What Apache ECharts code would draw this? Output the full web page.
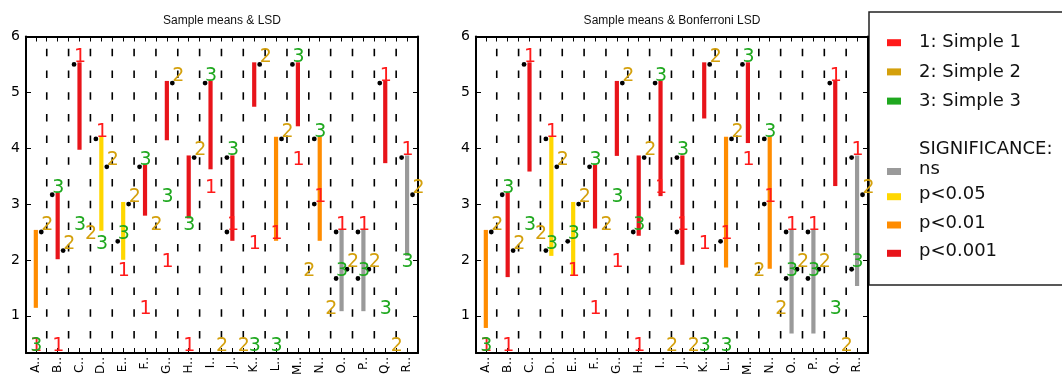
<!DOCTYPE html>
<html>
<head>
<meta charset="utf-8">
<script src="https://cdn.jsdelivr.net/npm/echarts@6/dist/echarts.min.js"></script>
<style>
  html, body { margin: 0; padding: 0; background: #fff; }
  #chart { width: 1062px; height: 378px; }
</style>
</head>
<body>
<div id="chart"></div>
<script>
// categories and the three sample means per category
var categories = ['A','B','C','D','E','F','G','H','I','J','K','L','M','N','O','P','Q','R'];
var mean1 = [0.333, 0.333, 5.5, 4.167, 1.667, 1.0, 1.833, 0.333, 3.167, 2.5, 2.167, 2.333, 3.667, 3.0, 2.5, 2.5, 5.167, 3.833];
var mean2 = [2.5, 2.167, 2.333, 3.667, 3.0, 2.5, 5.167, 3.833, 0.333, 0.333, 5.5, 4.167, 1.667, 1.0, 1.833, 1.833, 0.333, 3.167];
var mean3 = [0.333, 3.167, 2.5, 2.167, 2.333, 3.667, 3.0, 2.5, 5.167, 3.833, 0.333, 0.333, 5.5, 4.167, 1.667, 1.667, 1.0, 1.833];

// significance of each category (same in both panels)
var sigLevel = ['p<0.01','p<0.001','p<0.001','p<0.05','p<0.05','p<0.001','p<0.001','p<0.001','p<0.001','p<0.001','p<0.001','p<0.01','p<0.001','p<0.01','ns','ns','p<0.001','ns'];

// LSD panel: lower end of bar, samples marked with a dot
var lsdLow = [1.18, 2.05, 4.01, 2.56, 2.04, 2.83, 4.18, 2.78, 3.66, 2.38, 4.78, 2.38, 4.43, 2.38, 1.12, 1.12, 3.77, 2.11];
var lsdDots = ['2','32','1','12','23','3','2','2','3','31','2','2','3','31','123','123','1','12'];

// Bonferroni panel
var bonfLow = [0.82, 1.73, 3.62, 2.11, 1.75, 2.6, 3.9, 2.47, 3.18, 1.95, 4.57, 1.9, 4.13, 1.88, 0.72, 0.72, 3.36, 1.57];
var bonfDots = ['2','32','1','123','23','3','2','23','3','31','2','21','3','31','123','123','1','123'];

var yTicks = [1, 2, 3, 4, 5, 6];
var sampleNames = ['1: Simple 1', '2: Simple 2', '3: Simple 3'];
var sigNames = ['ns', 'p<0.05', 'p<0.01', 'p<0.001'];

var sampleColors = ['#ff1a1a', '#d4a00c', '#1fa81f'];
var sigColors = ['#9a9a9a', '#ffd700', '#ff8c00', '#e8141a'];

var X_MIN = -0.45, X_MAX = 17.5, Y_MIN = 1 / 3, Y_MAX = 6;
var FONT = 'DejaVu Sans';

var halfTicks = [], catTicks = [], separators = [];
for (var i = 0; i < categories.length; i++) {
  catTicks.push(i);
  halfTicks.push(i, i + 0.5);
  if (i < categories.length - 1) separators.push([i + 0.5, Y_MAX]);
}

var means = [mean1, mean2, mean3];

function axisLine() {
  return { show: true, onZero: false, lineStyle: { color: '#000', width: 2 } };
}

function makeAxes(g) {
  var xs = [], ys = [];
  ['bottom', 'top'].forEach(function (pos) {
    xs.push({
      gridIndex: g, type: 'value', position: pos, min: X_MIN, max: X_MAX,
      axisLine: axisLine(),
      axisTick: { show: true, inside: true, length: 5, customValues: halfTicks, lineStyle: { color: '#000', width: 1 } },
      axisLabel: pos === 'bottom' ? {
        show: true, customValues: catTicks, rotate: 90, margin: 4,
        fontSize: 12, fontFamily: FONT, color: '#000',
        formatter: function (v) { return categories[Math.round(v)] + '..'; }
      } : { show: false },
      splitLine: { show: false }
    });
  });
  ['left', 'right'].forEach(function (pos) {
    ys.push({
      gridIndex: g, type: 'value', position: pos, min: Y_MIN, max: Y_MAX,
      axisLine: axisLine(),
      axisTick: { show: true, inside: true, length: 5, customValues: yTicks, lineStyle: { color: '#000', width: 1 } },
      axisLabel: pos === 'left' ? {
        show: true, customValues: yTicks, margin: 6, fontSize: 14, fontFamily: FONT, color: '#000'
      } : { show: false },
      splitLine: { show: false }
    });
  });
  return { x: xs, y: ys };
}

function sigColor(i) {
  return sigColors[sigNames.indexOf(sigLevel[i])];
}

function panelSeries(g, low, dots) {
  var axisIdx = g * 2;
  var sepSeries = {
    type: 'custom', xAxisIndex: axisIdx, yAxisIndex: axisIdx, silent: true, z: 1,
    data: separators,
    renderItem: function (params, api) {
      var x = api.value(0);
      var p1 = api.coord([x, Y_MAX]);
      var p2 = api.coord([x, Y_MIN]);
      return {
        type: 'line',
        shape: { x1: p1[0], y1: p1[1], x2: p2[0], y2: p2[1] },
        style: { stroke: '#000', lineWidth: 1.6, lineDash: [7.5, 14.2], lineDashOffset: 9.4 }
      };
    }
  };
  var data = categories.map(function (c, i) {
    return [i, Math.max(mean1[i], mean2[i], mean3[i]), low[i]];
  });
  var markSeries = {
    type: 'custom', xAxisIndex: axisIdx, yAxisIndex: axisIdx, silent: true, z: 3,
    data: data,
    renderItem: function (params, api) {
      var i = params.dataIndex;
      var top = api.coord([i, api.value(1)]);
      var bot = api.coord([i, api.value(2)]);
      var children = [{
        type: 'line',
        shape: { x1: top[0], y1: top[1], x2: bot[0], y2: bot[1] },
        style: { stroke: sigColor(i), lineWidth: 4.2, lineCap: 'square' }
      }];
      var texts = [];
      for (var k = 0; k < 3; k++) {
        var side = (k === 1) ? 0.25 : -0.25;
        var p = api.coord([i + side, means[k][i]]);
        if (dots[i].indexOf(String(k + 1)) >= 0) {
          children.push({
            type: 'circle', shape: { cx: p[0], cy: p[1], r: 2.4 },
            style: { fill: '#000' }
          });
        }
        texts.push({
          type: 'text', x: p[0], y: p[1] - 7,
          style: {
            text: String(k + 1), fill: sampleColors[k],
            fontSize: 19, fontFamily: FONT, align: 'left', verticalAlign: 'middle'
          }
        });
      }
      return { type: 'group', children: children.concat(texts) };
    }
  };
  return [sepSeries, markSeries];
}

var left = makeAxes(0), right = makeAxes(1);

var legendChildren = [{
  type: 'rect', shape: { x: 869, y: 12, width: 220, height: 273 },
  style: { fill: '#fff', stroke: '#222', lineWidth: 1.5 }
}];
sampleNames.forEach(function (name, k) {
  var y = 42.7 + k * 29.2;
  legendChildren.push({ type: 'rect', shape: { x: 887, y: y - 3.5, width: 14, height: 7 }, style: { fill: sampleColors[k] } });
  legendChildren.push({ type: 'text', x: 919, y: y, style: { text: name, fontSize: 18, fontFamily: FONT, fill: '#111', verticalAlign: 'middle' } });
});
legendChildren.push({ type: 'text', x: 919, y: 149, style: { text: 'SIGNIFICANCE:', fontSize: 18, fontFamily: FONT, fill: '#111', verticalAlign: 'middle' } });
sigNames.forEach(function (name, k) {
  var y = [171.5, 196.7, 225, 253.3][k];
  legendChildren.push({ type: 'rect', shape: { x: 887, y: y - 3.5, width: 14, height: 7 }, style: { fill: sigColors[k] } });
  legendChildren.push({ type: 'text', x: 919, y: y - 2, style: { text: name, fontSize: 18, fontFamily: FONT, fill: '#111', verticalAlign: 'middle' } });
});

var chart = echarts.init(document.getElementById('chart'), null, { renderer: 'canvas' });
chart.setOption({
  animation: false,
  backgroundColor: '#fff',
  grid: [
    { left: 26, top: 36.5, width: 392, height: 320 },
    { left: 476, top: 36.5, width: 392, height: 320 }
  ],
  xAxis: left.x.concat(right.x),
  yAxis: left.y.concat(right.y),
  series: panelSeries(0, lsdLow, lsdDots).concat(panelSeries(1, bonfLow, bonfDots)),
  graphic: [
    { type: 'text', x: 222, y: 21, style: { text: 'Sample means & LSD', fontSize: 12, fontFamily: 'Liberation Sans', fill: '#111', align: 'center', verticalAlign: 'middle' } },
    { type: 'text', x: 672, y: 21, style: { text: 'Sample means & Bonferroni LSD', fontSize: 12, fontFamily: 'Liberation Sans', fill: '#111', align: 'center', verticalAlign: 'middle' } },
    { type: 'group', children: legendChildren }
  ]
});
</script>
</body>
</html>
